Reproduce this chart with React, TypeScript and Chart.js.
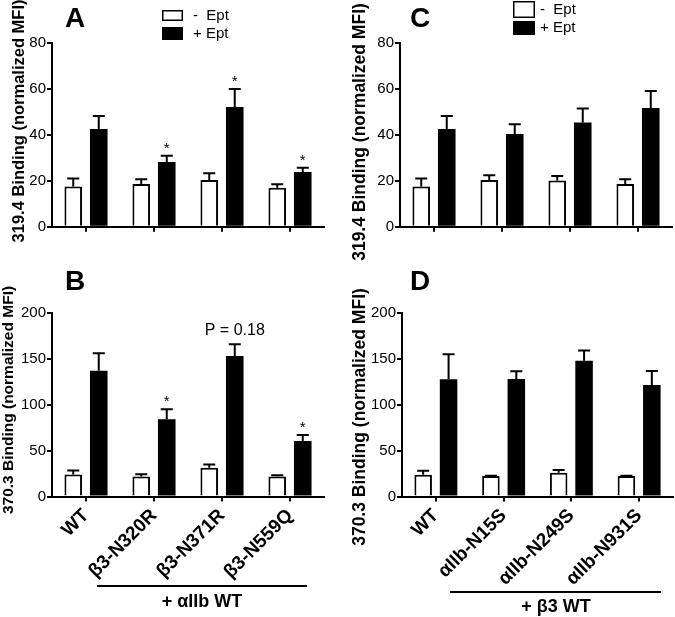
import React, { useEffect, useRef } from 'react';
import { Chart, registerables } from 'chart.js';
Chart.register(...registerables);

const FONT = "'Liberation Sans', Arial, Helvetica, sans-serif";
const W = 675;
const H = 617;

// ---- data ----
const seriesLabels = ['-  Ept', '+ Ept'];
const beta3Labels = ['WT', 'β3-N320R', 'β3-N371R', 'β3-N559Q'];
const aIIbLabels = ['WT', 'αIIb-N15S', 'αIIb-N249S', 'αIIb-N931S'];

const aMinus = [17.5, 18.6, 20.4, 17.0];
const aMinusErr = [3.5, 2.1, 2.9, 1.5];
const aPlus = [42.6, 28.2, 52.2, 23.9];
const aPlusErr = [5.7, 2.8, 7.9, 1.8];
const aStars = [false, true, true, true];

const bMinus = [23.9, 21.7, 31.2, 21.7];
const bMinusErr = [4.4, 2.6, 3.6, 1.5];
const bPlus = [136.9, 84.0, 152.9, 60.4];
const bPlusErr = [18.9, 11.0, 12.7, 6.5];
const bStars = [false, true, false, true];
const bPText = 'P = 0.18';
const bPIndex = 2;

const cMinus = [17.5, 20.4, 20.1, 18.6];
const cMinusErr = [3.5, 2.0, 2.0, 2.1];
const cPlus = [42.6, 40.4, 45.4, 51.8];
const cPlusErr = [5.7, 4.3, 6.2, 7.4];

const dMinus = [23.7, 22.2, 25.9, 22.2];
const dMinusErr = [4.4, 0.5, 3.0, 0.3];
const dPlus = [127.5, 127.9, 147.8, 121.3];
const dPlusErr = [27.2, 8.3, 11.2, 15.3];

const topYTicks = [0, 20, 40, 60, 80];
const bottomYTicks = [0, 50, 100, 150, 200];

const title319 = '319.4 Binding (normalized MFI)';
const title370 = '370.3 Binding (normalized MFI)';
const groupB = '+ αIIb WT';
const groupD = '+ β3 WT';

type Panel = {
  id: string;
  labels: string[];
  minus: number[];
  minusErr: number[];
  plus: number[];
  plusErr: number[];
  yTicks: number[];
  area: { left: number; top: number; right: number; bottom: number };
  showX: boolean;
  stars?: boolean[];
  pText?: { index: number; text: string };
  title: string;
  titleX: number;
  titleY: number;
  titleSize: number;
  letterX: number;
  letterY: number;
  legend?: { x: number; y1: number; h1: number; y2: number; h2: number; w: number; tx: number };
  group?: { text: string; x1: number; x2: number; lineY: number; textX: number; textY: number };
};

const panels: Panel[] = [
  {
    id: 'A', labels: beta3Labels, minus: aMinus, minusErr: aMinusErr, plus: aPlus, plusErr: aPlusErr,
    yTicks: topYTicks, area: { left: 52, top: 43.3, right: 324, bottom: 226.7 }, showX: false,
    stars: aStars, title: title319, titleX: 19, titleY: 121, titleSize: 16.5, letterX: 65, letterY: 27,
    legend: { x: 162, y1: 10, h1: 11, y2: 27, h2: 13, w: 21, tx: 193 },
  },
  {
    id: 'B', labels: beta3Labels, minus: bMinus, minusErr: bMinusErr, plus: bPlus, plusErr: bPlusErr,
    yTicks: bottomYTicks, area: { left: 52, top: 312.7, right: 324, bottom: 496.5 }, showX: true,
    stars: bStars, pText: { index: bPIndex, text: bPText }, title: title370, titleX: 9, titleY: 400, titleSize: 15.5,
    letterX: 65, letterY: 290,
    group: { text: groupB, x1: 97, x2: 307, lineY: 586, textX: 202, textY: 607 },
  },
  {
    id: 'C', labels: aIIbLabels, minus: cMinus, minusErr: cMinusErr, plus: cPlus, plusErr: cPlusErr,
    yTicks: topYTicks, area: { left: 400, top: 43.3, right: 672, bottom: 226.7 }, showX: false,
    title: title319, titleX: 360, titleY: 132, titleSize: 17.5, letterX: 410, letterY: 27,
    legend: { x: 513, y1: 1, h1: 17, y2: 21, h2: 14, w: 22, tx: 540 },
  },
  {
    id: 'D', labels: aIIbLabels, minus: dMinus, minusErr: dMinusErr, plus: dPlus, plusErr: dPlusErr,
    yTicks: bottomYTicks, area: { left: 402, top: 312.7, right: 673, bottom: 496.5 }, showX: true,
    title: title370, titleX: 360, titleY: 417, titleSize: 17.5, letterX: 410, letterY: 290,
    group: { text: groupD, x1: 450, x2: 661, lineY: 592, textX: 556, textY: 612 },
  },
];

const Y_W = 45;
const X_H = 110;

function PanelChart({ p }: { p: Panel }) {
  const ref = useRef<HTMLCanvasElement | null>(null);
  useEffect(() => {
    const annot = {
      id: 'annot' + p.id,
      afterDatasetsDraw(chart: any) {
        const ctx = chart.ctx as CanvasRenderingContext2D;
        const ys = chart.scales.y;
        ctx.save();
        ctx.strokeStyle = '#000';
        ctx.fillStyle = '#000';
        ctx.lineWidth = 2;
        ctx.lineCap = 'butt';
        const sets: [number[], number[]][] = [[p.minus, p.minusErr], [p.plus, p.plusErr]];
        sets.forEach(([vals, errs], di) => {
          const meta = chart.getDatasetMeta(di);
          meta.data.forEach((el: any, i: number) => {
            const top = ys.getPixelForValue(vals[i]);
            const e = ys.getPixelForValue(vals[i] + errs[i]);
            ctx.beginPath();
            ctx.moveTo(el.x, top);
            ctx.lineTo(el.x, e);
            ctx.moveTo(el.x - 6, e);
            ctx.lineTo(el.x + 6, e);
            ctx.stroke();
            if (di === 1 && p.stars && p.stars[i]) {
              ctx.font = `15px ${FONT}`;
              ctx.textAlign = 'center';
              ctx.textBaseline = 'alphabetic';
              ctx.fillText('*', el.x, e - 3);
            }
            if (di === 1 && p.pText && p.pText.index === i) {
              ctx.font = `16px ${FONT}`;
              ctx.textAlign = 'center';
              ctx.textBaseline = 'alphabetic';
              ctx.fillText(p.pText.text, el.x, e - 9);
            }
          });
        });
        // panel letter
        ctx.font = `bold 28px ${FONT}`;
        ctx.textAlign = 'left';
        ctx.textBaseline = 'alphabetic';
        ctx.fillText(p.id, p.letterX, p.letterY);
        // y title
        ctx.save();
        ctx.translate(p.titleX, p.titleY);
        ctx.rotate(-Math.PI / 2);
        ctx.font = `bold ${p.titleSize}px ${FONT}`;
        ctx.textAlign = 'center';
        ctx.textBaseline = 'middle';
        ctx.fillText(p.title, 0, 0);
        ctx.restore();
        // legend
        if (p.legend) {
          const L = p.legend;
          ctx.lineWidth = 1.5;
          ctx.fillStyle = '#fff';
          ctx.fillRect(L.x, L.y1, L.w, L.h1);
          ctx.strokeRect(L.x + 0.75, L.y1 + 0.75, L.w - 1.5, L.h1 - 1.5);
          ctx.fillStyle = '#000';
          ctx.fillRect(L.x, L.y2, L.w, L.h2);
          ctx.font = `15px ${FONT}`;
          ctx.textAlign = 'left';
          ctx.textBaseline = 'middle';
          ctx.fillText(seriesLabels[0], L.tx, L.y1 + L.h1 / 2);
          ctx.fillText(seriesLabels[1], L.tx, L.y2 + L.h2 / 2);
        }
        // group underline + label
        if (p.group) {
          const G = p.group;
          ctx.lineWidth = 2;
          ctx.beginPath();
          ctx.moveTo(G.x1, G.lineY);
          ctx.lineTo(G.x2, G.lineY);
          ctx.stroke();
          ctx.font = `bold 18px ${FONT}`;
          ctx.textAlign = 'center';
          ctx.textBaseline = 'alphabetic';
          ctx.fillText(G.text, G.textX, G.textY);
        }
        ctx.restore();
      },
    };

    const chart = new Chart(ref.current as HTMLCanvasElement, {
      type: 'bar',
      data: {
        labels: p.labels,
        datasets: [
          {
            label: seriesLabels[0], data: p.minus, backgroundColor: '#ffffff', borderColor: '#000000',
            borderWidth: 2, categoryPercentage: 0.75, barPercentage: 0.69,
          },
          {
            label: seriesLabels[1], data: p.plus, backgroundColor: '#000000', borderColor: '#000000',
            borderWidth: 0, categoryPercentage: 0.75, barPercentage: 0.69,
          },
        ],
      },
      options: {
        responsive: false,
        animation: false,
        devicePixelRatio: 1,
        events: [],
        layout: {
          padding: {
            left: p.area.left - Y_W,
            right: W - p.area.right,
            top: p.area.top,
            bottom: H - p.area.bottom - X_H,
          },
        },
        plugins: { legend: { display: false }, tooltip: { enabled: false }, title: { display: false } },
        scales: {
          x: {
            offset: true,
            grid: { display: true, drawOnChartArea: false, drawTicks: true, tickLength: 5, offset: false, color: '#000', lineWidth: 2 },
            border: { display: true, color: '#000', width: 2 },
            ticks: {
              display: p.showX, autoSkip: false, minRotation: 45, maxRotation: 45, padding: 3, color: '#000',
              font: { family: FONT, size: 19, weight: 'bold' },
            },
            afterFit: (s: any) => { s.height = X_H; s.paddingLeft = 0; s.paddingRight = 0; },
          },
          y: {
            min: p.yTicks[0],
            max: p.yTicks[p.yTicks.length - 1],
            afterBuildTicks: (s: any) => { s.ticks = p.yTicks.map((v) => ({ value: v })); },
            grid: { display: true, drawOnChartArea: false, drawTicks: true, tickLength: 5, color: '#000', lineWidth: 2 },
            border: { display: true, color: '#000', width: 2 },
            ticks: { padding: 1, color: '#000', font: { family: FONT, size: 15 } },
            afterFit: (s: any) => { s.width = Y_W; s.paddingTop = 0; s.paddingBottom = 0; },
          },
        },
      } as any,
      plugins: [annot],
    });
    return () => chart.destroy();
  }, []);
  return (
    <canvas
      ref={ref}
      width={W}
      height={H}
      style={{ position: 'absolute', left: 0, top: 0, width: W, height: H }}
    />
  );
}

export default function App() {
  return (
    <div style={{ position: 'absolute', left: 0, top: 0, width: W, height: H, background: '#fff', overflow: 'hidden' }}>
      {panels.map((p) => (
        <PanelChart key={p.id} p={p} />
      ))}
    </div>
  );
}
